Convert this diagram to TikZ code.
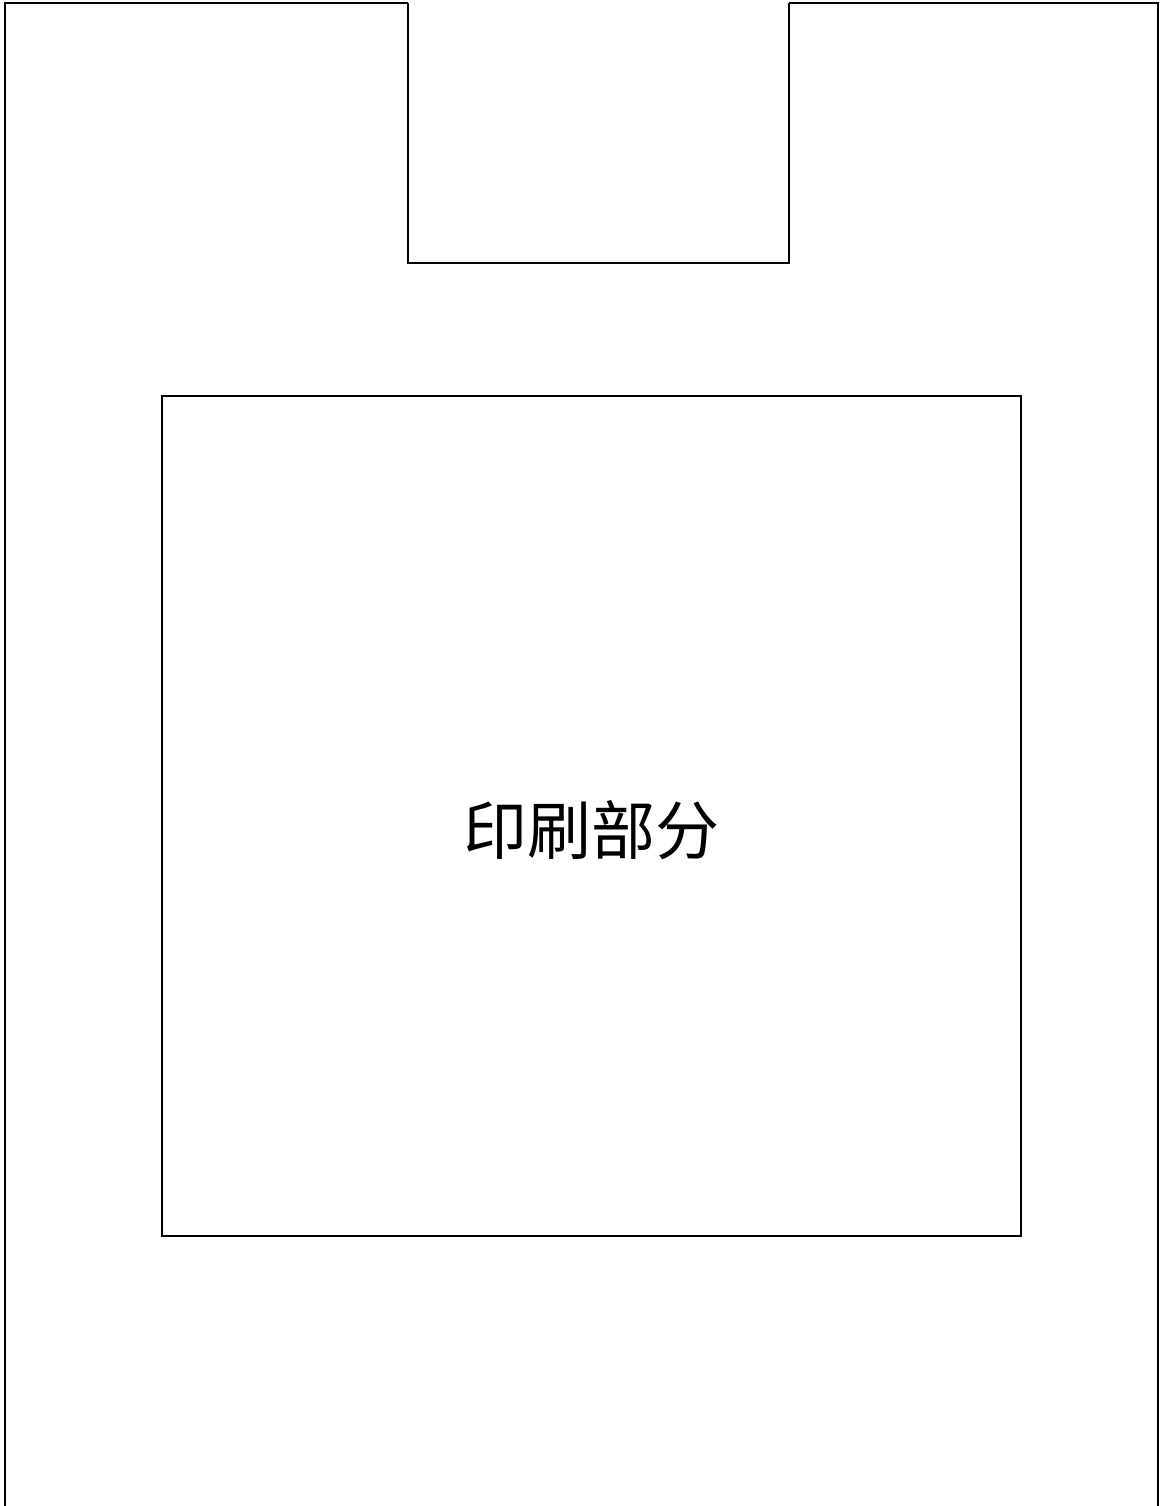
\documentclass[tikz,border=0pt]{standalone}
\usepackage{fontspec}
\newfontfamily\cjk{Noto Sans CJK SC}
\usetikzlibrary{calc}

\begin{document}
\begin{tikzpicture}[x=0.5pt, y=-0.5pt, line join=miter,
		bagline/.style = {black, line width=1.1pt},
		printarea/.style = {draw, black, line width=1pt, minimum width=429.5pt, minimum height=420pt, inner sep=0pt}]
		\useasboundingbox (0,0) rectangle (1162,1506);
		% bag outline with the handle cut-out
		\coordinate (bl) at (5,1506);
		\coordinate (tl) at (5,3);
		\coordinate (nl) at (408,3);
		\coordinate (nbl) at (408,263);
		\coordinate (nbr) at (789,263);
		\coordinate (nr) at (789,3);
		\coordinate (tr) at (1158,3);
		\coordinate (br) at (1158,1506);
		\draw[bagline] (bl) -- (tl) -- (nl);
		\draw[bagline, line width=1.4pt] (nl) -- (nbl) -- (nbr) -- (nr);
		\draw[bagline] (nr) -- (tr) -- (br);
		% printed area
		\node[printarea] (print) at (591.5,816) {};
		\node[font=\cjk\fontsize{32}{32}\selectfont] (label) at (591,830) {印刷部分};
\end{tikzpicture}
\end{document}
